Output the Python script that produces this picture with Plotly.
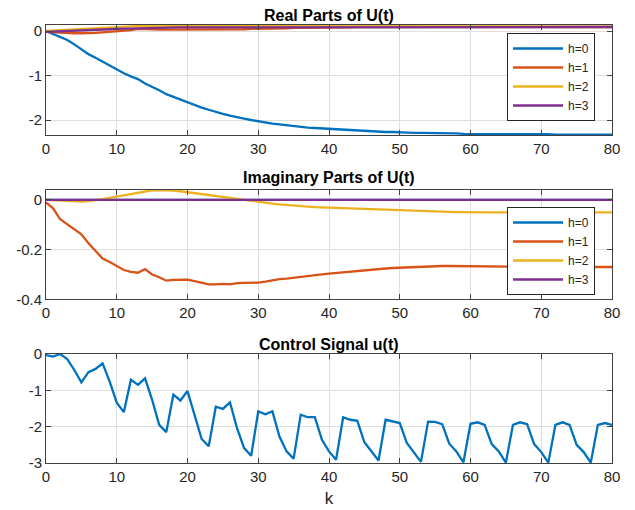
import plotly.graph_objects as go

k = list(range(81))

# Real parts of U(t)
re_h0 = [0, -0.07, -0.13, -0.2, -0.3, -0.41, -0.52, -0.6, -0.69, -0.78,
         -0.87, -0.95, -1.02, -1.08, -1.18, -1.25, -1.33, -1.42, -1.48, -1.55,
         -1.61, -1.67, -1.72, -1.77, -1.82, -1.86, -1.9, -1.94, -1.97, -2.0,
         -2.03, -2.05, -2.08, -2.1, -2.12, -2.14, -2.15, -2.17, -2.18, -2.19,
         -2.2, -2.21, -2.22, -2.23, -2.24, -2.25, -2.25, -2.26, -2.27, -2.27,
         -2.28, -2.28, -2.29, -2.29, -2.29, -2.3, -2.3, -2.3, -2.3, -2.31,
         -2.31, -2.31, -2.31, -2.31, -2.32, -2.32, -2.32, -2.32, -2.32, -2.32,
         -2.32, -2.32, -2.33, -2.33, -2.33, -2.33, -2.33, -2.33, -2.33, -2.33, -2.33]
re_h1 = [-0.02, -0.03, -0.04, -0.05, -0.05, -0.05, -0.05, -0.04, -0.03, -0.02,
         -0.01, 0.0, 0.02, 0.05, 0.04, 0.03, 0.03, 0.03, 0.03, 0.03,
         0.03, 0.03, 0.03, 0.03, 0.03, 0.04, 0.04, 0.04, 0.04, 0.05,
         0.05, 0.05, 0.06, 0.06, 0.06, 0.07, 0.07, 0.07, 0.08, 0.08,
         0.08, 0.08, 0.08, 0.08, 0.09, 0.09, 0.09, 0.09, 0.09, 0.09,
         0.09, 0.09, 0.09, 0.09, 0.09, 0.09, 0.09, 0.09, 0.09, 0.09,
         0.09, 0.09, 0.09, 0.09, 0.09, 0.09, 0.09, 0.09, 0.09, 0.09,
         0.09, 0.09, 0.09, 0.09, 0.09, 0.09, 0.09, 0.09, 0.09, 0.09, 0.09]
re_h2 = [0.0, 0.01, 0.02, 0.03, 0.04, 0.05, 0.06, 0.07, 0.08, 0.09,
         0.095, 0.1, 0.105, 0.11, 0.11, 0.115, 0.115, 0.115, 0.115, 0.115,
         0.115, 0.115, 0.115, 0.115, 0.115, 0.115, 0.115, 0.115, 0.115, 0.115,
         0.11, 0.11, 0.11, 0.11, 0.11, 0.11, 0.11, 0.11, 0.11, 0.11,
         0.105, 0.105, 0.105, 0.105, 0.105, 0.105, 0.105, 0.105, 0.105, 0.105,
         0.1, 0.1, 0.1, 0.1, 0.1, 0.1, 0.1, 0.1, 0.1, 0.1,
         0.1, 0.1, 0.1, 0.1, 0.1, 0.1, 0.1, 0.1, 0.1, 0.1,
         0.1, 0.1, 0.1, 0.1, 0.1, 0.1, 0.1, 0.1, 0.1, 0.1, 0.1]
re_h3 = [-0.02, -0.015, -0.01, -0.005, 0.0, 0.005, 0.01, 0.02, 0.03, 0.04,
         0.05, 0.055, 0.06, 0.065, 0.07, 0.07, 0.075, 0.075, 0.08, 0.08,
         0.08, 0.08, 0.08, 0.085, 0.085, 0.085, 0.085, 0.085, 0.085, 0.085,
         0.09, 0.09, 0.09, 0.09, 0.09, 0.09, 0.09, 0.09, 0.09, 0.09,
         0.09, 0.09, 0.09, 0.09, 0.09, 0.09, 0.09, 0.09, 0.09, 0.09,
         0.09, 0.09, 0.09, 0.09, 0.09, 0.09, 0.09, 0.09, 0.09, 0.09,
         0.09, 0.09, 0.09, 0.09, 0.09, 0.09, 0.09, 0.09, 0.09, 0.09,
         0.09, 0.09, 0.09, 0.09, 0.09, 0.09, 0.09, 0.09, 0.09, 0.09, 0.09]

# Imaginary parts of U(t)
im_h0 = [0.0] * 81
im_h1 = [-0.01, -0.034, -0.078, -0.098, -0.117, -0.138, -0.174, -0.205, -0.236, -0.25,
         -0.266, -0.282, -0.29, -0.293, -0.278, -0.3, -0.311, -0.325, -0.322, -0.322,
         -0.321, -0.327, -0.335, -0.34, -0.34, -0.338, -0.34, -0.335, -0.334, -0.334,
         -0.333, -0.329, -0.323, -0.319, -0.317, -0.314, -0.311, -0.309, -0.305, -0.3,
         -0.297, -0.294, -0.291, -0.288, -0.285, -0.282, -0.28, -0.278, -0.276, -0.274,
         -0.273, -0.271, -0.269, -0.267, -0.266, -0.266, -0.266, -0.266, -0.266, -0.266,
         -0.266, -0.267, -0.267, -0.267, -0.268, -0.268, -0.268, -0.269, -0.269, -0.269,
         -0.27, -0.27, -0.27, -0.27, -0.27, -0.27, -0.27, -0.27, -0.27, -0.27, -0.27]
im_h2 = [0.0, -0.002, -0.004, -0.006, -0.007, -0.007, -0.005, -0.002, 0.003, 0.008,
         0.013, 0.019, 0.025, 0.031, 0.036, 0.039, 0.04, 0.04, 0.038, 0.035,
         0.031, 0.028, 0.024, 0.02, 0.016, 0.013, 0.009, 0.004, 0.0, -0.005,
         -0.009, -0.012, -0.015, -0.018, -0.021, -0.023, -0.025, -0.027, -0.029, -0.03,
         -0.031, -0.033, -0.034, -0.035, -0.036, -0.037, -0.039, -0.04, -0.041, -0.042,
         -0.043, -0.044, -0.045, -0.046, -0.047, -0.047, -0.048, -0.048, -0.049, -0.049,
         -0.05, -0.05, -0.05, -0.05, -0.05, -0.05, -0.05, -0.05, -0.05, -0.05,
         -0.05, -0.05, -0.05, -0.05, -0.05, -0.05, -0.05, -0.05, -0.05, -0.05, -0.05]
im_h3 = [0.0] * 81

# Control signal u(t)
u = [-0.03, -0.07, 0.0, -0.14, -0.44, -0.78, -0.5, -0.41, -0.26, -0.76,
     -1.34, -1.6, -0.71, -0.85, -0.67, -1.26, -1.95, -2.15, -1.12, -1.28,
     -1.02, -1.68, -2.34, -2.54, -1.45, -1.51, -1.33, -2.04, -2.59, -2.8,
     -1.58, -1.66, -1.58, -2.27, -2.68, -2.88, -1.67, -1.74, -1.74, -2.36,
     -2.68, -2.91, -1.74, -1.81, -1.84, -2.43, -2.68, -2.93, -1.81, -1.86,
     -1.9, -2.45, -2.71, -2.97, -1.86, -1.87, -1.93, -2.47, -2.68, -2.98,
     -1.92, -1.88, -1.95, -2.48, -2.68, -2.99, -1.95, -1.88, -1.93, -2.48,
     -2.7, -2.99, -1.95, -1.88, -1.95, -2.5, -2.7, -2.99, -1.95, -1.9, -1.95]

names = ["h=0", "h=1", "h=2", "h=3"]
colors = ["#0072BD", "#D95319", "#EDB120", "#7E2F8E"]

FONT = "Liberation Sans, Arial, Helvetica, sans-serif"
TXT = "#262626"

fig = go.Figure()
for name, col, ys in zip(names, colors, [re_h0, re_h1, re_h2, re_h3]):
    fig.add_trace(go.Scatter(x=k, y=ys, mode="lines", name=name,
                             line=dict(color=col, width=2.3),
                             xaxis="x", yaxis="y", legend="legend"))
for name, col, ys in zip(names, colors, [im_h0, im_h1, im_h2, im_h3]):
    fig.add_trace(go.Scatter(x=k, y=ys, mode="lines", name=name,
                             line=dict(color=col, width=2.3),
                             xaxis="x2", yaxis="y2", legend="legend2"))
fig.add_trace(go.Scatter(x=k, y=u, mode="lines", name="u", showlegend=False,
                         line=dict(color=colors[0], width=2.3),
                         xaxis="x3", yaxis="y3"))

# page body has an 8px margin; shift the figure so the plot matches
OFF = 8
FW, FH = 635 - OFF, 510 - OFF
L, R, T, B = 46 - OFF, 23, 25 - OFF, 47
H = FH - T - B
W = FW - L - R


def py(pix):
    # reference-pixel y -> paper coordinate
    return (FH - B - (pix - OFF)) / H


def px(pix):
    return (pix - OFF - L) / W


axcommon = dict(showline=True, linecolor="#404040", linewidth=1, mirror="ticks",
                ticks="inside", ticklen=5, tickcolor="#404040", automargin=False,
                showgrid=True, gridcolor="#DFDFDF", gridwidth=1, zeroline=False,
                tickfont=dict(family=FONT, size=15, color=TXT))

xt = [0, 10, 20, 30, 40, 50, 60, 70, 80]
xlab = [str(v) for v in xt]

lay = dict(
    width=FW, height=FH,
    margin=dict(l=L, r=R, t=T, b=B, autoexpand=False),
    paper_bgcolor="white", plot_bgcolor="white",
    font=dict(family=FONT, size=14, color=TXT),
)

dom = [(py(135), py(25)), (py(299.3), py(190)), (py(463), py(354))]
yranges = [[-2.337, 0.135], [-0.4, 0.04], [-3, 0]]
yticks = [([0, -1, -2], ["0", "-1", "-2"]),
          ([0, -0.2, -0.4], ["0", "-0.2", "-0.4"]),
          ([0, -1, -2, -3], ["0", "-1", "-2", "-3"])]

for i in range(3):
    sx = "" if i == 0 else str(i + 1)
    lay["xaxis" + sx] = dict(axcommon, domain=[0, 1], range=[0, 80],
                             anchor="y" + sx, tickvals=xt, ticktext=xlab)
    lay["yaxis" + sx] = dict(axcommon, domain=list(dom[i]), range=yranges[i],
                             anchor="x" + sx, tickvals=yticks[i][0],
                             ticktext=yticks[i][1])

lay["xaxis3"]["title"] = dict(text="k", font=dict(family=FONT, size=17, color=TXT),
                              standoff=8)

legcommon = dict(bgcolor="white", bordercolor="#262626", borderwidth=1,
                 font=dict(family=FONT, size=12, color=TXT),
                 xanchor="left", yanchor="top", itemwidth=50,
                 tracegroupgap=0)
lay["legend"] = dict(legcommon, x=px(507), y=py(33))
lay["legend2"] = dict(legcommon, x=px(507), y=py(207))

titles = [("Real Parts of U(t)", 15), ("Imaginary Parts of U(t)", 178),
          ("Control Signal u(t)", 344)]
lay["annotations"] = [
    dict(text="<b>%s</b>" % t, x=0.5, y=py(yy), xref="paper", yref="paper",
         xanchor="center", yanchor="middle", showarrow=False,
         font=dict(family=FONT, size=16, color="black"))
    for t, yy in titles
]

fig.update_layout(**lay)
fig.write_html("out.html")
